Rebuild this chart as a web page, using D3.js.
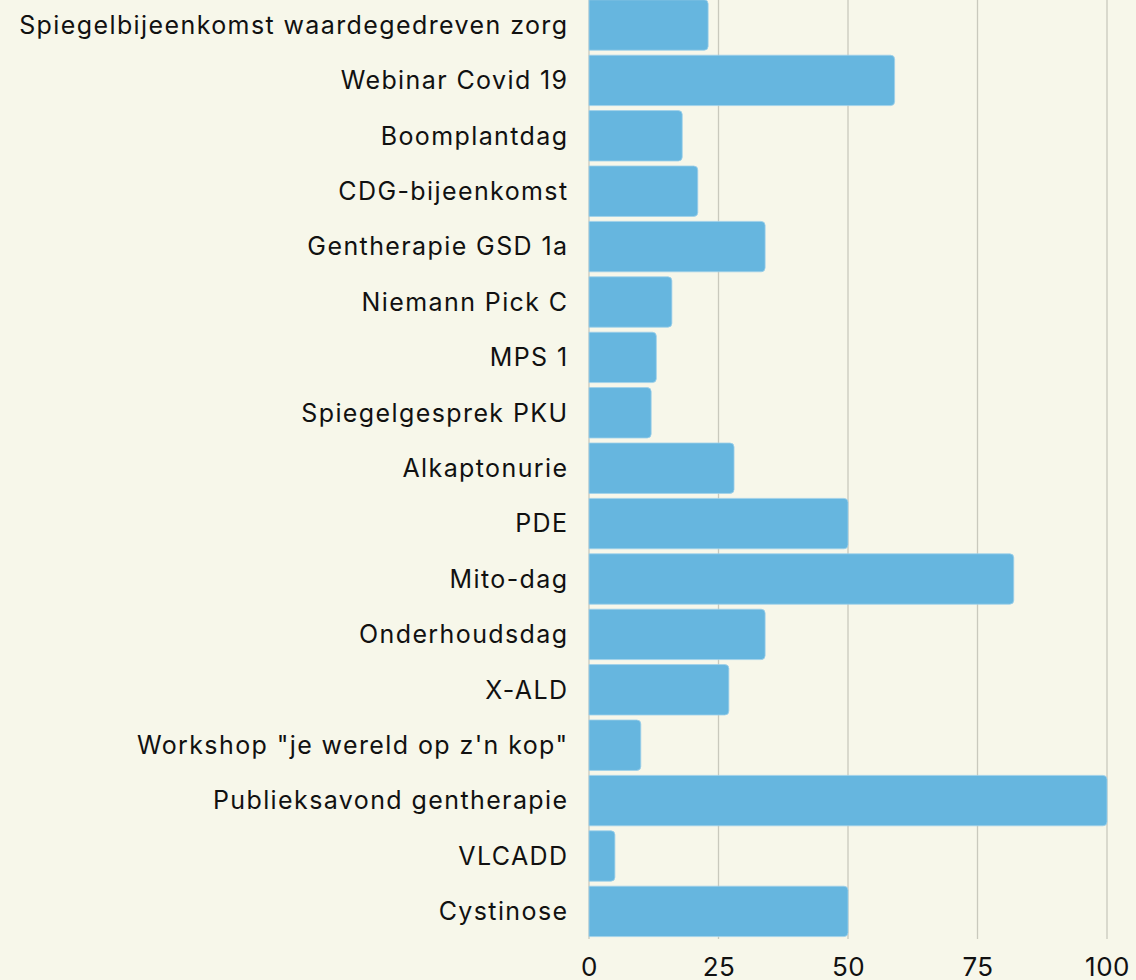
<!DOCTYPE html>
<html><head><meta charset="utf-8">
<script src="https://cdn.jsdelivr.net/npm/d3@7"></script>
<style>
html,body{margin:0;padding:0;background:#f7f7ea;}
svg{display:block;}
</style></head>
<body>
<svg id="chart" width="1136" height="980"></svg>
<script>
const categories = ["Spiegelbijeenkomst waardegedreven zorg","Webinar Covid 19","Boomplantdag","CDG-bijeenkomst","Gentherapie GSD 1a","Niemann Pick C","MPS 1","Spiegelgesprek PKU","Alkaptonurie","PDE","Mito-dag","Onderhoudsdag","X-ALD","Workshop \"je wereld op z'n kop\"","Publieksavond gentherapie","VLCADD","Cystinose"];
const values = [23,59,18,21,34,16,13,12,28,50,82,34,27,10,100,5,50];
const tickValues = [0,25,50,75,100];

const svg = d3.select("#chart");
const W = 1136, H = 980;
svg.append("rect").attr("width",W).attr("height",H).attr("fill","#f7f7ea");

const x = d3.scaleLinear().domain([0,100]).range([589,1107]);
const y = d3.scaleBand().domain(categories).range([-2.7,939.1]).paddingInner(0.09).paddingOuter(0.045);

const font = "Inter, 'Noto Sans', sans-serif";

// gridlines
svg.append("g").selectAll("line").data(tickValues).join("line")
  .attr("x1",d=>x(d)).attr("x2",d=>x(d)).attr("y1",0).attr("y2",939)
  .attr("stroke","#c9c9bd").attr("stroke-width",1.3);

// bars
const r = 4;
svg.append("g").selectAll("path").data(categories).join("path")
  .attr("d",(c,i)=>{
    const x0 = x(0), x1 = x(values[i]), y0 = y(c), y1 = y(c)+y.bandwidth();
    const p = d3.path();
    p.moveTo(x0,y0); p.lineTo(x1-r,y0); p.quadraticCurveTo(x1,y0,x1,y0+r);
    p.lineTo(x1,y1-r); p.quadraticCurveTo(x1,y1,x1-r,y1); p.lineTo(x0,y1); p.closePath();
    return p.toString();
  })
  .attr("fill","#66b6df").attr("stroke","#9fd0ea").attr("stroke-width",0.8);

// y labels
const yAxis = d3.axisLeft(y).tickSize(0).tickPadding(0);
const gy = svg.append("g").attr("transform","translate(568.5,0)").call(yAxis);
gy.select(".domain").remove();
gy.selectAll("text").attr("font-family",font).attr("font-size",25).attr("letter-spacing","1.4px")
  .attr("fill","#111").attr("dy","0.35em");

// x labels
const xAxis = d3.axisBottom(x).tickValues(tickValues).tickSize(0).tickPadding(0);
const gx = svg.append("g").attr("transform","translate(0,967)").call(xAxis);
gx.select(".domain").remove();
gx.selectAll("text").attr("font-family",font).attr("font-size",26).attr("letter-spacing","0.5px")
  .attr("fill","#111").attr("dy","0.36em");
</script>
</body></html>
